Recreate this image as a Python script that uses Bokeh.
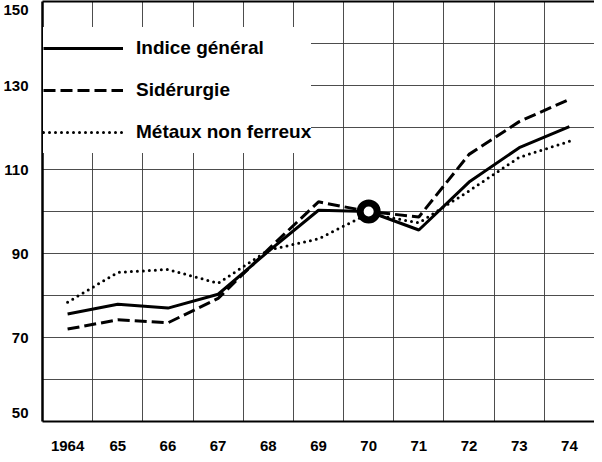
from bokeh.plotting import figure
from bokeh.models import FixedTicker, LinearAxis, Legend, LegendItem, Range1d
from bokeh.embed import file_html
from bokeh.resources import INLINE

# ---- data ----
year_labels = ["1964", "65", "66", "67", "68", "69", "70", "71", "72", "73", "74"]
indice_general = [75.6, 77.9, 77.0, 80.3, 90.5, 100.3, 100.0, 95.6, 107.0, 115.2, 120.2]
siderurgie = [72.0, 74.2, 73.5, 79.3, 91.0, 102.3, 100.0, 98.7, 113.6, 121.4, 126.7]
metaux_non_ferreux = [78.4, 85.5, 86.2, 82.9, 90.8, 93.5, 99.5, 97.3, 104.9, 112.9, 116.7]
base_year_index = [6]
base_value = [100]
y_tick_labels = [50, 70, 90, 110, 130, 150]
y_grid_values = [60, 70, 80, 90, 100, 110, 120, 130, 140]

x = list(range(len(year_labels)))
y_min, y_max = y_tick_labels[0], y_tick_labels[-1]

# as in the printed original, the end labels sit just inside the frame
END_NUDGE = 2.0
label_pos = {}
for v in y_tick_labels:
    pos = v + END_NUDGE if v == y_min else (v - END_NUDGE if v == y_max else v)
    label_pos[pos] = str(v)

TICK_FONT = "'Liberation Sans', Arial, sans-serif"

p = figure(width=594, height=454, output_backend="svg", toolbar_location=None,
           x_range=Range1d(-0.5, len(year_labels) - 0.5), y_range=Range1d(y_min, y_max),
           min_border_left=35, min_border_right=0, min_border_top=1, min_border_bottom=33)
p.outline_line_color = None
p.background_fill_color = "white"
p.border_fill_color = "white"

# axes
p.xaxis.ticker = FixedTicker(ticks=x)
p.xaxis.major_label_overrides = {i: lab for i, lab in enumerate(year_labels)}
p.yaxis.ticker = FixedTicker(ticks=list(label_pos.keys()))
p.yaxis.major_label_overrides = label_pos
for ax in (p.xaxis[0], p.yaxis[0]):
    ax.axis_line_color = "black"
    ax.major_tick_line_color = None
    ax.minor_tick_line_color = None
    ax.major_label_text_font = TICK_FONT
    ax.major_label_text_font_style = "bold"
    ax.major_label_text_font_size = "15px"
    ax.major_label_text_color = "black"
p.xaxis.axis_line_width = 2
p.yaxis.axis_line_width = 2.5
p.xaxis.major_label_standoff = 13
p.yaxis.major_label_standoff = 8

top = LinearAxis(ticker=FixedTicker(ticks=[]), axis_line_width=2, axis_line_color="black",
                 major_tick_line_color=None, minor_tick_line_color=None,
                 major_label_text_font_size="0px")
p.add_layout(top, "above")

# grid
p.xgrid.ticker = FixedTicker(ticks=[i + 0.5 for i in range(len(year_labels) - 1)])
p.ygrid.ticker = FixedTicker(ticks=y_grid_values)
for g in (p.xgrid[0], p.ygrid[0]):
    g.grid_line_color = "#3a3a3a"
    g.grid_line_width = 1
    g.grid_line_alpha = 0.9

# series
r_met = p.line(x, metaux_non_ferreux, line_color="black", line_width=3,
               line_dash="0 6", line_cap="round")
r_sid = p.line(x, siderurgie, line_color="black", line_width=3, line_dash="12 5")
r_ind = p.line(x, indice_general, line_color="black", line_width=3)
p.scatter(base_year_index, base_value, marker="circle", size=17, line_width=7,
          line_color="black", fill_color="white")

legend = Legend(items=[LegendItem(label="Indice général", renderers=[r_ind]),
                       LegendItem(label="Sidérurgie", renderers=[r_sid]),
                       LegendItem(label="Métaux non ferreux", renderers=[r_met])],
                location=(1, 268), orientation="vertical",
                glyph_width=80, glyph_height=42, label_height=42, spacing=0,
                padding=11, margin=0, label_standoff=13,
                background_fill_color="white", background_fill_alpha=1.0,
                border_line_color=None,
                label_text_font="'Liberation Sans', Arial, sans-serif",
                label_text_font_style="bold", label_text_font_size="19px",
                label_text_color="black")
p.add_layout(legend)

open("out.html", "w").write(file_html(p, INLINE))
